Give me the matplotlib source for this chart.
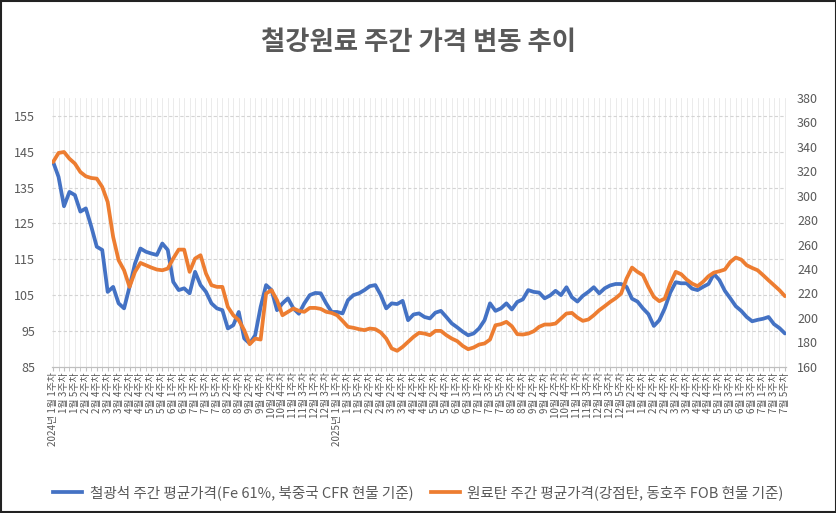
import matplotlib
matplotlib.use("Agg")
import matplotlib.pyplot as plt
import matplotlib.patches as mpatches
import numpy as np

plt.rcParams['font.family'] = ['Noto Sans CJK KR', 'DejaVu Sans']

# 연도별 월간 주차 수 (2024년 1월 ~ 2026년 7월)
years = [2024, 2025, 2026]
weeks_per_month = {
    2024: [5, 4, 4, 4, 5, 4, 5, 4, 4, 5, 4, 4],
    2025: [5, 4, 4, 4, 5, 4, 5, 4, 4, 5, 4, 5],
    2026: [4, 4, 4, 5, 4, 4, 5],
}

# 철광석 주간 평균가격 (좌축)
iron_ore = [
    142.2, 138.0, 129.8, 133.8, 132.9, 128.3, 129.2, 124.1, 118.5, 117.6,
    105.9, 107.3, 102.7, 101.3, 107.3, 113.8, 118.0, 117.1, 116.6, 116.2,
    119.4, 117.6, 108.7, 106.4, 106.9, 105.5, 111.5, 107.8, 105.9, 102.7,
    101.3, 100.8, 95.7, 96.6, 100.3, 92.9, 91.5, 93.8, 101.7, 107.8,
    106.4, 100.8, 102.7, 104.1, 101.3, 99.8, 102.7, 105.0, 105.6, 105.5,
    102.7, 100.3, 100.3, 99.9, 103.6, 105.0, 105.5, 106.4, 107.5, 107.8,
    105.0, 101.3, 102.7, 102.5, 103.4, 98.0, 99.6, 99.9, 98.9, 98.5,
    100.1, 100.6, 98.9, 97.1, 96.0, 94.8, 93.8, 94.3, 95.7, 98.0,
    102.7, 100.6, 101.3, 102.7, 101.0, 103.1, 103.8, 106.4, 105.9, 105.7,
    104.1, 104.9, 106.2, 105.0, 107.2, 104.4, 103.2, 104.8, 105.9, 107.2,
    105.5, 106.9, 107.7, 108.1, 108.1, 107.3, 104.0, 103.2, 101.3, 99.7,
    96.4, 98.0, 101.3, 105.7, 108.6, 108.3, 108.3, 106.8, 106.4, 107.3,
    108.1, 110.9, 109.2, 106.2, 104.1, 101.9, 100.6, 98.9, 97.7, 98.1,
    98.4, 98.9, 96.9, 95.8, 94.3,
]

# 원료탄 주간 평균가격 (우축)
coking_coal = [
    327.6, 335.0, 335.8, 330.3, 326.3, 319.4, 315.9, 314.5, 314.0, 307.2,
    294.9, 266.3, 247.2, 239.0, 225.4, 237.7, 245.0, 243.1, 241.2, 239.6,
    239.0, 240.4, 248.6, 255.9, 255.9, 237.7, 248.6, 251.3, 236.3, 226.8,
    225.4, 225.4, 209.0, 202.2, 198.1, 190.0, 178.5, 183.1, 182.3, 220.0,
    222.7, 214.5, 202.2, 204.9, 207.7, 205.8, 205.0, 208.2, 208.2, 207.4,
    205.0, 204.1, 202.2, 197.6, 192.7, 191.9, 190.8, 190.0, 191.3, 190.8,
    188.1, 183.1, 175.0, 173.1, 176.3, 180.4, 184.5, 187.8, 187.2, 185.9,
    189.4, 189.4, 185.9, 183.1, 181.0, 177.1, 174.4, 175.8, 178.2, 179.1,
    182.3, 194.0, 194.9, 196.8, 193.2, 186.7, 186.4, 187.2, 189.1, 192.7,
    194.6, 194.6, 195.4, 199.5, 203.6, 204.1, 200.3, 197.6, 198.7, 202.2,
    206.3, 209.6, 213.1, 216.1, 219.9, 232.2, 241.2, 237.7, 235.0, 225.4,
    217.2, 213.7, 215.8, 228.1, 237.7, 235.8, 231.4, 228.1, 226.0, 229.5,
    234.1, 237.1, 238.2, 239.6, 245.8, 249.4, 247.7, 243.1, 240.9, 239.0,
    235.0, 230.8, 226.8, 222.7, 217.8,
]

left_ticks = [85, 95, 105, 115, 125, 135, 145, 155]
right_ticks = [160, 180, 200, 220, 240, 260, 280, 300, 320, 340, 360, 380]

title = "철강원료 주간 가격 변동 추이"
label_ore = "철광석 주간 평균가격(Fe 61%, 북중국 CFR 현물 기준)"
label_coal = "원료탄 주간 평균가격(강점탄, 동호주 FOB 현물 기준)"

# 카테고리 라벨 만들기
categories = []
for y in years:
    for m, n in enumerate(weeks_per_month[y], start=1):
        for w in range(1, n + 1):
            if m == 1 and w == 1:
                categories.append(f"{y}년 {m}월 {w}주차")
            else:
                categories.append(f"{m}월 {w}주차")

x = np.arange(len(categories))
grey = "#595959"
blue = "#4472C4"
orange = "#ED7D31"

fig = plt.figure(figsize=(8.37, 5.13), dpi=100)
ax = fig.add_axes([0.0621, 0.285, 0.877, 0.524])
ax2 = ax.twinx()

# 배경 격자
for xi in x:
    ax.axvline(xi, color="#e8e8e8", linewidth=0.6, zorder=0)
for t in left_ticks[1:]:
    ax.axhline(t, color="#d4d4d4", linewidth=0.8, linestyle=(0, (3, 2)), zorder=0)

ax.plot(x, iron_ore, color=blue, linewidth=2.7, solid_capstyle="round", zorder=3)
ax2.plot(x, coking_coal, color=orange, linewidth=2.7, solid_capstyle="round", zorder=3)

ax.set_xlim(-0.2, len(x) - 0.8)
ax.set_ylim(85, 160)
ax2.set_ylim(160, 380)
ax.set_yticks(left_ticks)
ax2.set_yticks(right_ticks)

ax.set_xticks(x[::2])
ax.set_xticklabels(categories[::2], rotation=90, fontsize=7.1, color=grey)
ax.set_xticks(x, minor=True)
ax.tick_params(axis="x", which="both", length=3, color="#bfbfbf", pad=1)
ax.tick_params(axis="y", length=0, labelsize=9, labelcolor=grey, pad=12)
ax2.tick_params(axis="y", length=0, labelsize=9, labelcolor=grey, pad=8)

for a in (ax, ax2):
    for s in ["top", "left", "right"]:
        a.spines[s].set_visible(False)
    a.spines["bottom"].set_color("#bfbfbf")

fig.text(0.5, 0.918, title, ha="center", va="center", fontsize=19,
         fontweight="bold", color=grey)

h1 = plt.Line2D([], [], color=blue, linewidth=2.7)
h2 = plt.Line2D([], [], color=orange, linewidth=2.7)
fig.legend([h1, h2], [label_ore, label_coal], loc="center", ncol=2,
           bbox_to_anchor=(0.5, 0.04), frameon=False, fontsize=10.5,
           labelcolor=grey, handlelength=2.0, columnspacing=1.2, handletextpad=0.5)

fig.patches.append(mpatches.Rectangle((0.001, 0.001), 0.998, 0.997, transform=fig.transFigure,
                                      fill=False, edgecolor="#222222", linewidth=1.5))

fig.savefig("out.png", dpi=100)
